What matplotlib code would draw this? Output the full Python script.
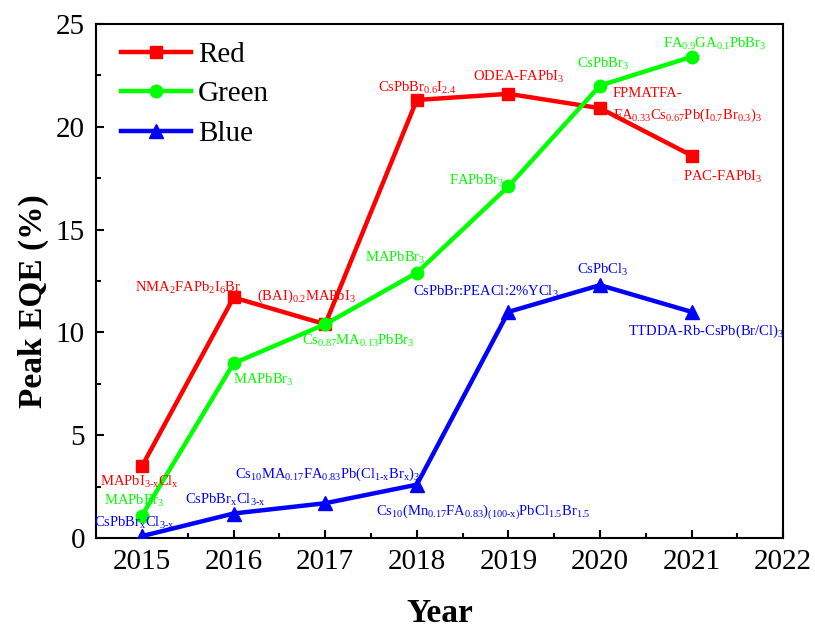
import numpy as np
import matplotlib
matplotlib.use("Agg")
import matplotlib.pyplot as plt

plt.rcParams["font.family"] = ["Liberation Serif", "DejaVu Serif"]
plt.rcParams["mathtext.fontset"] = "custom"
plt.rcParams["mathtext.rm"] = "Liberation Serif"
plt.rcParams["mathtext.default"] = "regular"

years = [2015, 2016, 2017, 2018, 2019, 2020, 2021]
red_eqe = [3.5, 11.7, 10.4, 21.3, 21.6, 20.9, 18.6]
green_eqe = [1.1, 8.5, 10.4, 12.9, 17.1, 22.0, 23.4]
blue_eqe = [0.1, 1.2, 1.7, 2.6, 11.0, 12.3, 11.0]

# (text, x, y, horizontal alignment)
red_labels = [
    (r"MAPbI$_{3\text{-}x}$Cl$_x$", 2014.97, 2.75, "center"),
    (r"NMA$_2$FAPb$_2$I$_6$Br", 2015.5, 12.15, "center"),
    (r"(BAI)$_{0.2}$MAPbI$_3$", 2016.8, 11.75, "center"),
    (r"CsPbBr$_{0.6}$I$_{2.4}$", 2018.01, 21.9, "center"),
    (r"ODEA-FAPbI$_3$", 2019.11, 22.4, "center"),
    ("FPMATFA-", 2020.14, 21.6, "left"),
    (r"FA$_{0.33}$Cs$_{0.67}$Pb(I$_{0.7}$Br$_{0.3}$)$_3$", 2020.14, 20.55, "left"),
    (r"PAC-FAPbI$_3$", 2021.34, 17.55, "center"),
]
green_labels = [
    (r"MAPbBr$_3$", 2014.92, 1.8, "center"),
    (r"MAPbBr$_3$", 2016.32, 7.7, "center"),
    (r"Cs$_{0.87}$MA$_{0.13}$PbBr$_3$", 2017.36, 9.6, "center"),
    (r"MAPbBr$_3$", 2017.76, 13.6, "center"),
    (r"FAPbBr$_3$", 2018.65, 17.35, "center"),
    (r"CsPbBr$_3$", 2020.04, 23.05, "center"),
    (r"FA$_{0.9}$GA$_{0.1}$PbBr$_3$", 2021.25, 24.0, "center"),
]
blue_labels = [
    (r"CsPbBr$_x$Cl$_{3\text{-}x}$", 2014.92, 0.75, "center"),
    (r"CsPbBr$_x$Cl$_{3\text{-}x}$", 2015.91, 1.85, "center"),
    (r"Cs$_{10}$MA$_{0.17}$FA$_{0.83}$Pb(Cl$_{1\text{-}x}$Br$_x$)$_3$", 2017.03, 3.1, "center"),
    (r"Cs$_{10}$(Mn$_{0.17}$FA$_{0.83}$)$_{(100\text{-}x)}$PbCl$_{1.5}$Br$_{1.5}$", 2018.73, 1.3, "center"),
    (r"CsPbBr:PEACl:2%YCl$_3$", 2018.75, 11.95, "center"),
    (r"CsPbCl$_3$", 2020.03, 13.05, "center"),
    (r"TTDDA-Rb-CsPb(Br/Cl)$_3$", 2021.16, 10.05, "center"),
]

fig = plt.figure(figsize=(8.15, 6.28), dpi=100)
ax = fig.add_axes([0.118, 0.143, 0.843, 0.819])

ax.plot(years, red_eqe, color="#ff0000", lw=3.2, marker="s", ms=9, label="Red", zorder=3)
ax.plot(years, green_eqe, color="#00ff00", lw=3.2, marker="o", ms=9, label="Green", zorder=3)
ax.plot(years, blue_eqe, color="#0000ff", lw=3.2, marker="^", ms=10, label="Blue", zorder=3)

for labels, c in [(red_labels, "#ff0000"), (green_labels, "#00ff00"), (blue_labels, "#0000ff")]:
    for txt, x, y, ha in labels:
        ax.text(x, y, txt, color=c, fontsize=10.5, ha=ha, va="center", zorder=4)

ax.set_xlim(2014.54, 2022)
ax.set_ylim(0, 25)
ax.set_xticks(np.arange(2015, 2023))
ax.set_xticks(np.arange(2014.5, 2022.5, 1), minor=True)
ax.set_yticks(np.arange(0, 26, 5))
ax.set_yticks(np.arange(0, 25, 2.5), minor=True)
ax.tick_params(which="major", direction="in", length=6, width=1.5, labelsize=21, pad=8)
ax.tick_params(which="minor", direction="in", length=3.5, width=1.5)
for s in ax.spines.values():
    s.set_linewidth(1.5)

ax.set_xlabel("Year", fontsize=24, fontweight="bold", labelpad=16)
ax.set_ylabel("Peak EQE (%)", fontsize=24, fontweight="bold")
ax.yaxis.set_label_coords(-0.068, 0.46)

ax.legend(loc="upper left", frameon=False, fontsize=21, handlelength=2.4,
          handletextpad=0.25, labelspacing=0.45, borderaxespad=0.2,
          bbox_to_anchor=(0.01, 1.0))

fig.savefig("out.png", dpi=100)
